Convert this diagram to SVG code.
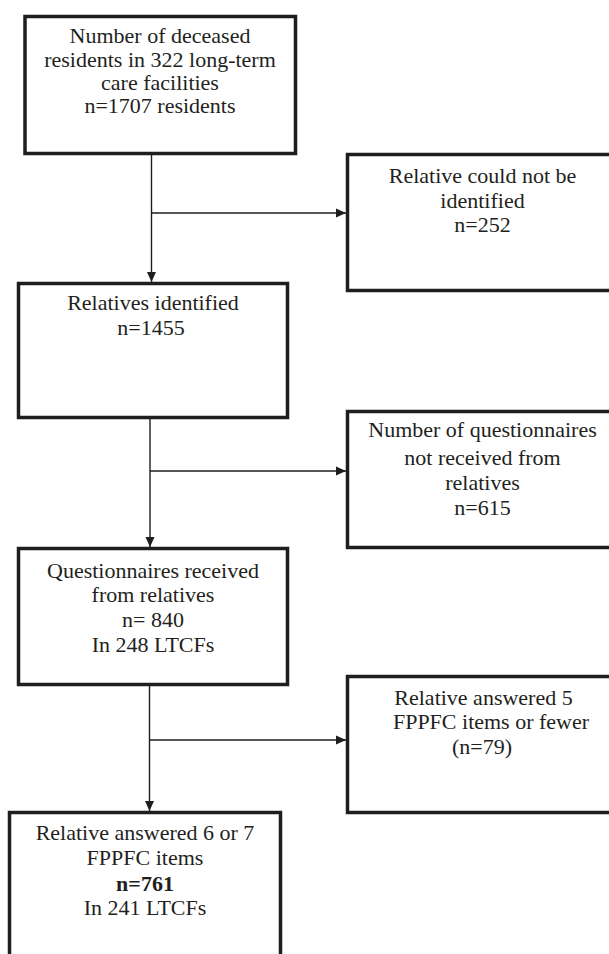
<svg xmlns="http://www.w3.org/2000/svg" width="609" height="954" viewBox="0 0 609 954">
<style>
  .box { fill: #ffffff; stroke: #1e1e1e; stroke-width: 3.5; }
  .t { font-family: "Liberation Serif", "Times New Roman", serif; font-size: 22px; fill: #231f20; text-anchor: middle; }
  .b { font-weight: bold; }
  .c { fill: none; stroke: #1e1e1e; stroke-width: 1.4; }
</style>
<defs>
  <marker id="arr" markerWidth="10" markerHeight="10" refX="10" refY="5" orient="auto" markerUnits="userSpaceOnUse">
    <path d="M0,0.5 L10,5 L0,9.5 Z" fill="#1e1e1e"/>
  </marker>
</defs>
<rect width="609" height="954" fill="#ffffff"/>

<g id="connectors">
  <path class="c" d="M151.5,155 L151.5,282" marker-end="url(#arr)"/>
  <path class="c" d="M151.5,213 L346,213" marker-end="url(#arr)"/>
  <path class="c" d="M150,419 L150,547" marker-end="url(#arr)"/>
  <path class="c" d="M150,471 L346,471" marker-end="url(#arr)"/>
  <path class="c" d="M149.5,686 L149.5,811" marker-end="url(#arr)"/>
  <path class="c" d="M149.5,740 L346,740" marker-end="url(#arr)"/>
</g>

<g id="n1">
  <rect class="box" x="25" y="16.5" width="270.5" height="137"/>
  <text class="t" x="160" y="43">Number of deceased</text>
  <text class="t" x="160" y="66.5">residents in 322 long-term</text>
  <text class="t" x="160" y="90">care facilities</text>
  <text class="t" x="160" y="113">n=1707 residents</text>
</g>

<g id="n2">
  <rect class="box" x="347.5" y="154.5" width="272" height="136"/>
  <text class="t" x="482.5" y="183">Relative could not be</text>
  <text class="t" x="482.5" y="208">identified</text>
  <text class="t" x="482.5" y="232">n=252</text>
</g>

<g id="n3">
  <rect class="box" x="18.5" y="283.5" width="269" height="134"/>
  <text class="t" x="153" y="310">Relatives identified</text>
  <text class="t" x="151" y="335">n=1455</text>
</g>

<g id="n4">
  <rect class="box" x="347.5" y="411.5" width="272" height="136"/>
  <text class="t" x="482.5" y="437">Number of questionnaires</text>
  <text class="t" x="482.5" y="465">not received from</text>
  <text class="t" x="482.5" y="490">relatives</text>
  <text class="t" x="482.5" y="515">n=615</text>
</g>

<g id="n5">
  <rect class="box" x="18.5" y="548.5" width="269" height="136"/>
  <text class="t" x="153" y="578">Questionnaires received</text>
  <text class="t" x="153" y="602">from relatives</text>
  <text class="t" x="153" y="627">n= 840</text>
  <text class="t" x="153" y="652">In 248 LTCFs</text>
</g>

<g id="n6">
  <rect class="box" x="347.5" y="676.5" width="272" height="136"/>
  <text class="t" x="483.5" y="705">Relative answered 5</text>
  <text class="t" x="491" y="729">FPPFC items or fewer</text>
  <text class="t" x="482" y="754">(n=79)</text>
</g>

<g id="n7">
  <rect class="box" x="9.5" y="812.5" width="271" height="200"/>
  <text class="t" x="145" y="840">Relative answered 6 or 7</text>
  <text class="t" x="145" y="865">FPPFC items</text>
  <text class="t b" x="145" y="891">n=761</text>
  <text class="t" x="145" y="915">In 241 LTCFs</text>
</g>
</svg>
